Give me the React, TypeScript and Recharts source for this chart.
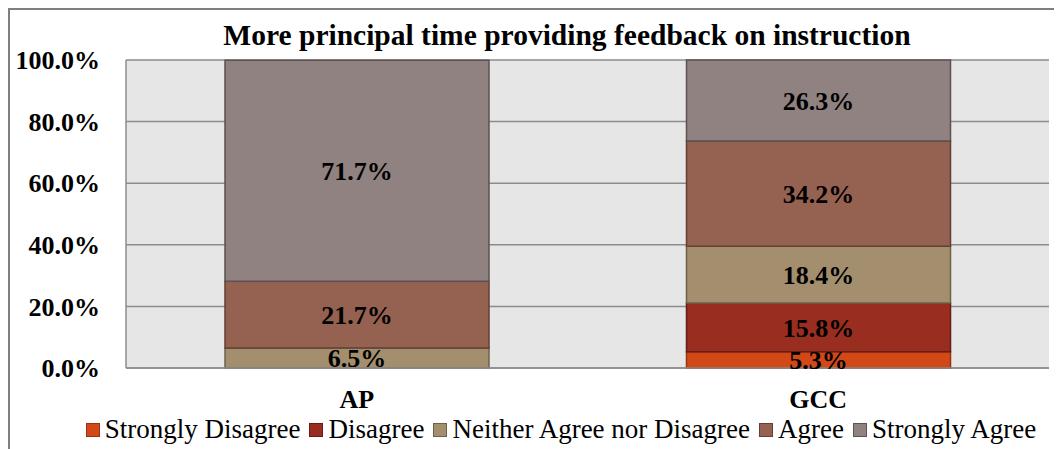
import { BarChart, Bar, XAxis, YAxis, CartesianGrid, Legend, LabelList } from 'recharts';

const categories = ['AP', 'GCC'];
const stronglyDisagree = [0, 5.3];
const disagree = [0, 15.8];
const neither = [6.5, 18.4];
const agree = [21.7, 34.2];
const stronglyAgree = [71.7, 26.3];
const yTicks = [0, 20, 40, 60, 80, 100];

const series = [
  { key: 'sd', name: 'Strongly Disagree', values: stronglyDisagree, fill: '#D24817', stroke: '#973412' },
  { key: 'd', name: 'Disagree', values: disagree, fill: '#992D1F', stroke: '#661d14' },
  { key: 'n', name: 'Neither Agree nor Disagree', values: neither, fill: '#A38F6D', stroke: '#6f6149' },
  { key: 'a', name: 'Agree', values: agree, fill: '#956151', stroke: '#633f34' },
  { key: 'sa', name: 'Strongly Agree', values: stronglyAgree, fill: '#8F8281', stroke: '#5c5252' },
];

const data = categories.map((c, i) => {
  const row: Record<string, string | number> = { name: c };
  series.forEach((s) => {
    row[s.key] = s.values[i];
  });
  return row;
});

const FONT = '"Liberation Serif", "Times New Roman", serif';

function LegendContent() {
  return (
    <div
      style={{
        display: 'flex',
        justifyContent: 'center',
        paddingLeft: 72,
        paddingTop: 7,
        fontFamily: FONT,
        fontSize: 27,
        lineHeight: '26px',
        color: '#000',
      }}
    >
      {series.map((s) => (
        <div key={s.key} style={{ display: 'flex', alignItems: 'center', marginRight: 9 }}>
          <span
            style={{
              display: 'inline-block',
              width: 12,
              height: 12,
              background: s.fill,
              border: `1px solid ${s.stroke}`,
              marginRight: 5,
              marginTop: 2,
            }}
          />
          <span>{s.name}</span>
        </div>
      ))}
    </div>
  );
}

export default function App() {
  return (
    <div
      style={{
        position: 'relative',
        width: 1054,
        height: 441,
        boxSizing: 'border-box',
        borderTop: '2px solid #7f7f7f',
        borderLeft: '2px solid #7f7f7f',
        fontFamily: FONT,
      }}
    >
      <div
        style={{
          position: 'absolute',
          left: 157,
          top: 11,
          width: 800,
          textAlign: 'center',
          fontWeight: 'bold',
          fontSize: 29.5,
          lineHeight: '28px',
          zIndex: 2,
        }}
      >
        More principal time providing feedback on instruction
      </div>
      <BarChart
        width={1052}
        height={439}
        data={data}
        margin={{ top: 50, right: 13, left: 0, bottom: 4 }}
        barSize={264}
      >
        <CartesianGrid vertical={false} stroke="#8c8c8c" fill="#e6e6e6" strokeWidth={1.5} />
        <XAxis
          dataKey="name"
          height={41}
          tickLine={false}
          axisLine={{ stroke: '#8c8c8c', strokeWidth: 1.5 }}
          tickSize={6}
          tickMargin={16}
          tick={{ fontSize: 26, fontWeight: 'bold', fill: '#000', fontFamily: FONT }}
        />
        <YAxis
          width={116}
          domain={[0, 100]}
          ticks={yTicks}
          tickFormatter={(v: number) => `${v.toFixed(1)}%`}
          tickLine={false}
          axisLine={{ stroke: '#8c8c8c', strokeWidth: 1.5 }}
          tickSize={6}
          tickMargin={20}
          tick={{ fontSize: 26, fontWeight: 'bold', fill: '#000', fontFamily: FONT }}
        />
        <Legend verticalAlign="bottom" height={36} content={() => <LegendContent />} />
        {series.map((s) => (
          <Bar
            key={s.key}
            dataKey={s.key}
            name={s.name}
            stackId="a"
            fill={s.fill}
            stroke={s.stroke}
            strokeWidth={1.5}
            isAnimationActive={false}
          >
            <LabelList
              dataKey={s.key}
              position="center"
              formatter={(v: number) => (v > 0 ? `${v.toFixed(1)}%` : '')}
              style={{ fontSize: 26, fontWeight: 'bold', fill: '#000', fontFamily: FONT }}
            />
          </Bar>
        ))}
      </BarChart>
    </div>
  );
}
